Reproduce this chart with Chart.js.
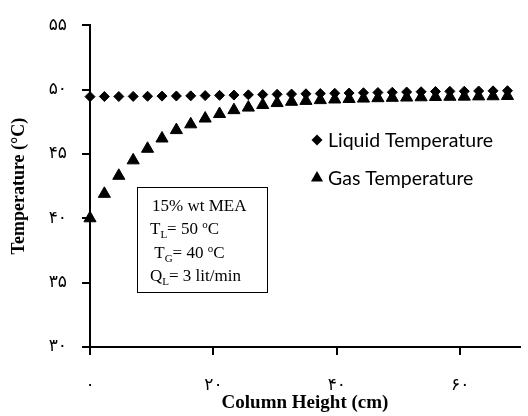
<!DOCTYPE html>
<html><head><meta charset="utf-8">
<script src="https://cdn.jsdelivr.net/npm/chart.js@4/dist/chart.umd.min.js"></script>
<style>html,body{margin:0;padding:0;background:#fff}#wrap{width:528px;height:416px}</style>
</head><body><div id="wrap"><canvas id="c" width="528" height="416"></canvas></div>
<script>
// ---- data ----
const columnHeight = [0, 2.33, 4.67, 7, 9.33, 11.67, 14, 16.33, 18.67, 21, 23.33, 25.67, 28, 30.33, 32.67, 35, 37.33, 39.67, 42, 44.33, 46.67, 49, 51.33, 53.67, 56, 58.33, 60.67, 63, 65.33, 67.67];
const liquidTemp = [49.45, 49.46, 49.46, 49.47, 49.48, 49.49, 49.5, 49.51, 49.53, 49.55, 49.57, 49.59, 49.61, 49.63, 49.65, 49.67, 49.69, 49.71, 49.73, 49.75, 49.77, 49.79, 49.81, 49.83, 49.85, 49.86, 49.87, 49.89, 49.9, 49.91];
const gasTemp = [40.0, 41.9, 43.3, 44.5, 45.4, 46.2, 46.85, 47.3, 47.75, 48.1, 48.4, 48.6, 48.8, 48.95, 49.05, 49.12, 49.18, 49.23, 49.27, 49.3, 49.33, 49.36, 49.38, 49.4, 49.42, 49.44, 49.45, 49.47, 49.48, 49.5];
const seriesNames = ['Liquid Temperature', 'Gas Temperature'];
const xTickValues = [0, 20, 40, 60];
const xTickLabels = ['۰', '۲۰', '۴۰', '۶۰'];
const yTickValues = [30, 35, 40, 45, 50, 55];
const yTickLabels = ['۳۰', '۳۵', '۴۰', '۴۵', '۵۰', '۵۵'];
const xTitle = 'Column Height (cm)';
const yTitle = 'Temperature (°C)';
const noteLines = [
  [['15% wt MEA', '']],
  [['T', ''], ['L', 'sub'], ['= 50 ', ''], ['o', 'sup'], ['C', '']],
  [[' T', ''], ['G', 'sub'], ['= 40 ', ''], ['o', 'sup'], ['C', '']],
  [['Q', ''], ['L', 'sub'], ['= 3 lit/min', '']]
];

const serif = "'Liberation Serif', 'DejaVu Serif', 'DejaVu Sans', serif";
const tickFont = "'Liberation Serif', 'DejaVu Sans', sans-serif";

const overlay = {
  id: 'overlay',
  afterDatasetsDraw(chart) {
    const ctx = chart.ctx;
    ctx.save();
    // legend
    const lx = 317;
    const items = [{y: 140, style: 'diamond'}, {y: 178, style: 'triangle'}];
    items.forEach((it, i) => {
      ctx.fillStyle = '#000';
      ctx.beginPath();
      if (it.style === 'diamond') {
        const r = 5.5;
        ctx.moveTo(lx, it.y - r); ctx.lineTo(lx + r, it.y); ctx.lineTo(lx, it.y + r); ctx.lineTo(lx - r, it.y);
      } else {
        const r = 7;
        ctx.moveTo(lx, it.y - r);
        ctx.lineTo(lx + r * 0.866, it.y + r / 2);
        ctx.lineTo(lx - r * 0.866, it.y + r / 2);
      }
      ctx.closePath(); ctx.fill();
      ctx.font = "19.5px Lato, 'Open Sans', sans-serif";
      ctx.textBaseline = 'middle';
      ctx.textAlign = 'left';
      ctx.fillText(seriesNames[i], 328, it.y + 1);
    });
    // annotation box
    ctx.strokeStyle = '#000';
    ctx.lineWidth = 1;
    ctx.strokeRect(137.5, 187.5, 130, 105);
    const ys = [207, 230, 254, 277];
    const xs = [152, 150, 150, 150];
    ctx.textBaseline = 'middle';
    noteLines.forEach((line, i) => {
      let x = xs[i];
      line.forEach(([t, kind]) => {
        let dy = 0;
        if (kind === 'sub') { ctx.font = '11px ' + serif; dy = 5; }
        else if (kind === 'sup') { ctx.font = '11px ' + serif; dy = -5; }
        else { ctx.font = '17px ' + serif; }
        ctx.fillText(t, x, ys[i] + dy);
        x += ctx.measureText(t).width;
      });
    });
    ctx.restore();
  }
};

new Chart(document.getElementById('c'), {
  type: 'scatter',
  data: {
    datasets: [
      {label: seriesNames[0], data: columnHeight.map((x, i) => ({x, y: liquidTemp[i]})),
       pointStyle: 'rectRot', pointRadius: 5, backgroundColor: '#000', borderColor: '#000', borderWidth: 1, clip: false},
      {label: seriesNames[1], data: columnHeight.map((x, i) => ({x, y: gasTemp[i]})),
       pointStyle: 'triangle', pointRadius: 7, backgroundColor: '#000', borderColor: '#000', borderWidth: 1, clip: false}
    ]
  },
  options: {
    responsive: false, animation: false,
    layout: {padding: {top: 20, right: 0, left: 0, bottom: 0}},
    plugins: {legend: {display: false}, tooltip: {enabled: false}},
    scales: {
      x: {
        type: 'linear', min: 0, max: 69.7,
        afterFit(s) { s.height = 69; },
        afterBuildTicks(s) { s.ticks = xTickValues.map(v => ({value: v})); },
        ticks: {callback: (v) => xTickLabels[xTickValues.indexOf(v)], font: {family: tickFont, size: 17}, color: '#000', padding: 20, maxRotation: 0},
        grid: {drawOnChartArea: false, drawTicks: true, tickLength: 8, color: '#000', lineWidth: 2},
        border: {display: true, color: '#000', width: 2},
        title: {display: true, text: xTitle, color: '#000', font: {family: serif, weight: 'bold', size: 19}, padding: {top: 0, bottom: 2}}
      },
      y: {
        min: 30, max: 55,
        afterFit(s) { s.width = 90; },
        afterBuildTicks(s) { s.ticks = yTickValues.map(v => ({value: v})); },
        ticks: {callback: (v) => yTickLabels[yTickValues.indexOf(v)], font: {family: tickFont, size: 17}, color: '#000', padding: 15},
        grid: {drawOnChartArea: false, drawTicks: true, tickLength: 8, color: '#000', lineWidth: 2},
        border: {display: true, color: '#000', width: 2},
        title: {display: true, text: yTitle, color: '#000', font: {family: serif, weight: 'bold', size: 18}, padding: {top: 9, bottom: 0}}
      }
    }
  },
  plugins: [overlay]
});
</script>
</body></html>
